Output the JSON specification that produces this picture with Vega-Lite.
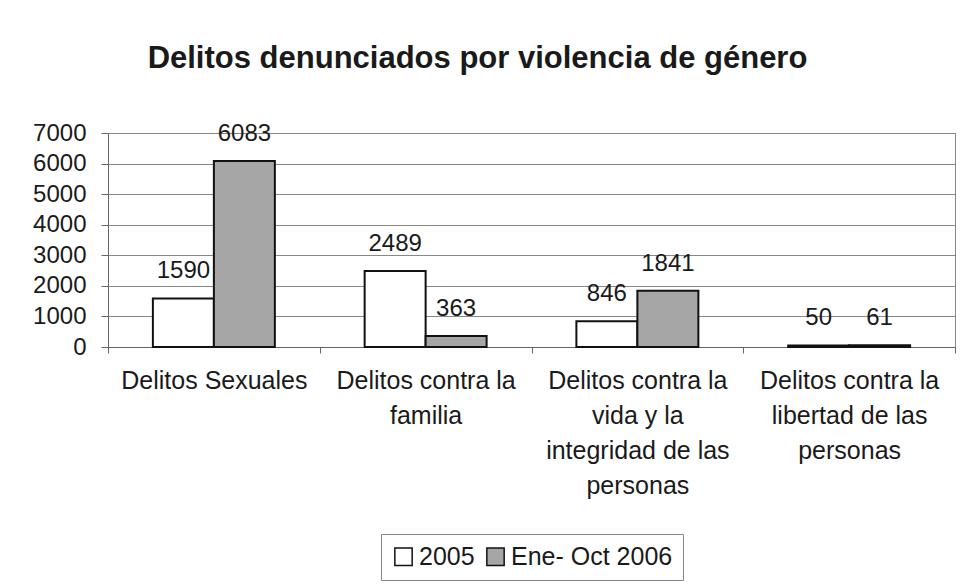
{
  "$schema": "https://vega.github.io/schema/vega-lite/v6.json",
  "width": 847,
  "height": 214,
  "autosize": {"type": "none"},
  "padding": {"left": 108, "top": 133, "right": 9, "bottom": 238},
  "background": "white",
  "config": {
    "font": "Liberation Sans",
    "view": {"stroke": "#888", "strokeWidth": 1}
  },
  "title": {
    "text": "Delitos denunciados por violencia de género",
    "font": "Liberation Sans",
    "fontSize": 31,
    "fontWeight": "bold",
    "color": "#1a1a1a",
    "anchor": "middle",
    "dx": -54,
    "offset": 46
  },
  "data": {
    "values": [
      {"categoria": "Delitos Sexuales", "serie": "2005", "valor": 1590},
      {"categoria": "Delitos Sexuales", "serie": "Ene- Oct 2006", "valor": 6083},
      {"categoria": "Delitos contra la familia", "serie": "2005", "valor": 2489},
      {"categoria": "Delitos contra la familia", "serie": "Ene- Oct 2006", "valor": 363},
      {"categoria": "Delitos contra la vida y la integridad de las personas", "serie": "2005", "valor": 846},
      {"categoria": "Delitos contra la vida y la integridad de las personas", "serie": "Ene- Oct 2006", "valor": 1841},
      {"categoria": "Delitos contra la libertad de las personas", "serie": "2005", "valor": 50},
      {"categoria": "Delitos contra la libertad de las personas", "serie": "Ene- Oct 2006", "valor": 61}
    ]
  },
  "encoding": {
    "x": {
      "field": "categoria",
      "type": "nominal",
      "sort": ["Delitos Sexuales", "Delitos contra la familia", "Delitos contra la vida y la integridad de las personas", "Delitos contra la libertad de las personas"],
      "scale": {"paddingInner": 0, "paddingOuter": 0},
      "axis": {
        "title": null,
        "labelAngle": 0,
        "labelFontSize": 25,
        "labelColor": "#1a1a1a",
        "labelPadding": 15,
        "labelLineHeight": 35,
        "labelBaseline": "top",
        "labelLimit": 0,
        "labelOverlap": false,
        "tickBand": "extent",
        "tickSize": 6,
        "tickColor": "#666",
        "domainColor": "#666",
        "labelExpr": "datum.value == 'Delitos contra la familia' ? ['Delitos contra la','familia'] : datum.value == 'Delitos contra la vida y la integridad de las personas' ? ['Delitos contra la','vida y la','integridad de las','personas'] : datum.value == 'Delitos contra la libertad de las personas' ? ['Delitos contra la','libertad de las','personas'] : datum.value"
      }
    },
    "xOffset": {
      "field": "serie",
      "type": "nominal",
      "sort": ["2005", "Ene- Oct 2006"],
      "scale": {"paddingInner": 0, "paddingOuter": 0.736}
    },
    "y": {
      "field": "valor",
      "type": "quantitative",
      "scale": {"domain": [0, 7000], "nice": false},
      "axis": {
        "title": null,
        "values": [0, 1000, 2000, 3000, 4000, 5000, 6000, 7000],
        "format": "d",
        "labelFontSize": 24,
        "labelColor": "#1a1a1a",
        "labelPadding": 15,
        "tickSize": 7,
        "tickColor": "#666",
        "domainColor": "#666",
        "gridColor": "#888",
        "gridWidth": 1
      }
    }
  },
  "layer": [
    {
      "mark": {"type": "bar", "stroke": "#111", "strokeWidth": 2},
      "encoding": {
        "fill": {
          "field": "serie",
          "type": "nominal",
          "sort": ["2005", "Ene- Oct 2006"],
          "scale": {"range": ["#ffffff", "#a6a6a6"]},
          "legend": {
            "title": null,
            "orient": "none",
            "legendX": 273,
            "legendY": 401,
            "direction": "horizontal",
            "labelFontSize": 25,
            "labelColor": "#1a1a1a",
            "labelLimit": 0,
            "symbolType": "square",
            "symbolSize": 300,
            "symbolStrokeColor": "#111",
            "symbolStrokeWidth": 1.5,
            "labelOffset": 3,
            "columnPadding": 8,
            "strokeColor": "#888",
            "padding": 10,
            "fillColor": "white"
          }
        }
      }
    },
    {
      "mark": {"type": "text", "fontSize": 24, "color": "#1a1a1a", "baseline": "alphabetic", "dy": -20},
      "encoding": {
        "text": {"field": "valor", "type": "quantitative", "format": "d"}
      }
    }
  ]
}
